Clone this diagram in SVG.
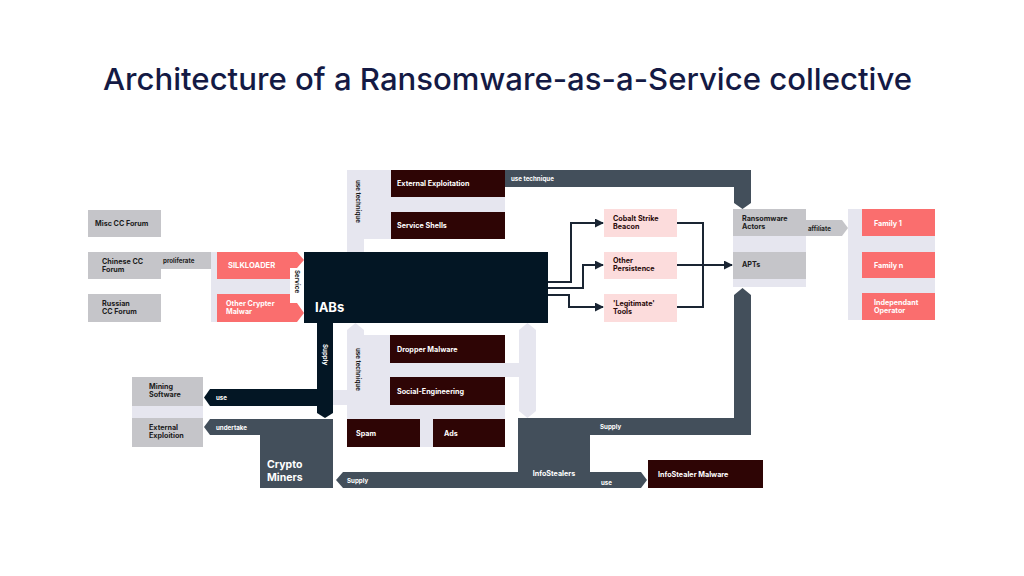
<svg xmlns="http://www.w3.org/2000/svg" width="1024" height="576" viewBox="0 0 1024 576">
<style>
.t{font-family:Inter,"Liberation Sans",sans-serif;font-weight:700;font-size:7.2px}
.w{fill:#ffffff}.d{fill:#1c1c1c}.m{fill:#2a0a0a}
.gray{fill:#c5c5c9}.lav{fill:#e6e6ef}.sal{fill:#fa6e6e}.pink{fill:#fcdcdc}.mar{fill:#2e0505}.navy{fill:#031624}.slate{fill:#434f5b}
.ln{fill:none;stroke:#1a2533;stroke-width:2}
.s{font-size:6.2px}
.big{font-size:13px}
.mid{font-size:10.5px}
</style>
<defs>
<marker id="ah" viewBox="0 0 10 10" refX="9" refY="5" markerWidth="4.5" markerHeight="4.5" orient="auto" markerUnits="strokeWidth">
<path d="M0,0 L10,5 L0,10 z" fill="#1a2533"/>
</marker>
</defs>
<rect width="1024" height="576" fill="#ffffff"/>
<text x="103" y="90" textLength="809" lengthAdjust="spacingAndGlyphs" font-family="Inter,'Liberation Sans',sans-serif" font-size="30.5" font-weight="500" fill="#141a44">Architecture of a Ransomware-as-a-Service collective</text>

<g id="connectors">
<!-- lavender backgrounds -->
<path class="lav" d="M347,252 V170 H505 V239 H364 V252 Z"/>
<rect class="lav" x="211" y="252" width="79" height="70"/>
<path class="lav" d="M347,447 V330 L355.5,323 L364,330 V335 H505 V447 Z"/>
<rect class="lav" x="505" y="363" width="14" height="14"/>
<path class="lav" d="M519,330 L527.5,323 L536,330 V411 L527.5,418 L519,411 Z"/>
<rect class="lav" x="333" y="390" width="14" height="15"/>
<rect class="lav" x="733" y="209" width="73" height="78"/>
<rect class="lav" x="848" y="209" width="87" height="111"/>
<rect class="lav" x="132" y="406" width="71" height="12"/>
<!-- proliferate -->
<rect class="gray" x="161" y="252" width="50" height="17"/>
<text class="t s d" x="163" y="263">proliferate</text>
<!-- top use technique -->
<path class="slate" d="M505,170 H751 V203 L742.5,209 L734,203 V187 H505 Z"/>
<text class="t s w" x="511" y="181">use technique</text>
<text class="t s d" transform="translate(356,180) rotate(90)">use technique</text>
<!-- Service -->
<text class="t s d" transform="translate(295,270) rotate(90)">Service</text>
<!-- Supply dark column -->
<path class="navy" d="M317,322 H333 V413 L325,418 L317,413 Z"/>
<text class="t s w" transform="translate(323,344) rotate(90)">Supply</text>
<!-- use arrow to Mining -->
<path class="navy" d="M333,389 H210 L204,397.5 L210,406 H333 Z"/>
<text class="t s w" x="216" y="400">use</text>
<!-- undertake -->
<path class="slate" d="M260,419 H210 L204,427 L210,435 H260 Z"/>
<text class="t s w" x="216" y="430">undertake</text>
<text class="t s d" transform="translate(356,348) rotate(90)">use technique</text>
<!-- APTs supply path -->
<path class="slate" d="M590,418 H734 V295 L742.5,288 L751,295 V435 H590 Z"/>
<text class="t s w" x="600" y="429">Supply</text>
<!-- bottom supply band -->
<path class="slate" d="M343,472 H641 L647,480 L641,488 H343 L336,480 Z"/>
<text class="t s w" x="347" y="483">Supply</text>
<text class="t s w" x="601" y="485">use</text>
<!-- affiliate -->
<path class="gray" d="M806,220 H842 L848,228 L842,236 H806 Z"/>
<text class="t s d" x="808" y="231">affiliate</text>
<!-- arrows from IABs -->
<path class="ln" d="M548,282 H571 V223 H603" marker-end="url(#ah)"/>
<path class="ln" d="M548,288 H583 V265 H603" marker-end="url(#ah)"/>
<path class="ln" d="M548,295 H569 V307 H603" marker-end="url(#ah)"/>
<path class="ln" d="M677,223 H703 V307 H677 M677,265 H732" marker-end="url(#ah)"/>
</g>

<g id="misc-cc"><rect class="gray" x="88" y="210" width="73" height="27"/><text class="t d" x="95" y="226">Misc CC Forum</text></g>
<g id="chinese-cc"><rect class="gray" x="88" y="252" width="73" height="27"/><text class="t d" x="102" y="264">Chinese CC</text><text class="t d" x="102" y="272">Forum</text></g>
<g id="russian-cc"><rect class="gray" x="88" y="294" width="73" height="28"/><text class="t d" x="102" y="306">Russian</text><text class="t d" x="102" y="314">CC Forum</text></g>

<g id="silkloader"><path class="sal" d="M217,252 H297 L304,260 L297,268 H290 V279 H217 Z"/><text class="t w" x="228" y="268" style="font-size:7.6px">SILKLOADER</text></g>
<g id="other-crypter"><path class="sal" d="M217,294 H290 V303 H297 L304,313 L297,322 H217 Z"/><text class="t w" x="226" y="306">Other Crypter</text><text class="t w" x="226" y="314">Malwar</text></g>

<g id="iabs"><rect class="navy" x="304" y="252" width="244" height="71"/><text class="t w big" x="315" y="312">IABs</text></g>

<g id="ext-exploitation"><rect class="mar" x="391" y="170" width="114" height="27"/><text class="t w" x="397" y="186">External Exploitation</text></g>
<g id="service-shells"><rect class="mar" x="391" y="212" width="114" height="27"/><text class="t w" x="397" y="228">Service Shells</text></g>

<g id="dropper"><rect class="mar" x="390" y="335" width="115" height="28"/><text class="t w" x="397" y="352">Dropper Malware</text></g>
<g id="social-eng"><rect class="mar" x="390" y="377" width="115" height="28"/><text class="t w" x="397" y="394">Social-Engineering</text></g>
<g id="spam"><rect class="mar" x="347" y="419" width="73" height="28"/><text class="t w" x="356" y="436">Spam</text></g>
<g id="ads"><rect class="mar" x="433" y="419" width="72" height="28"/><text class="t w" x="444" y="436">Ads</text></g>

<g id="cobalt"><rect class="pink" x="604" y="209" width="73" height="28"/><text class="t m" x="613" y="221">Cobalt Strike</text><text class="t m" x="613" y="229">Beacon</text></g>
<g id="other-persistence"><rect class="pink" x="604" y="252" width="73" height="27"/><text class="t m" x="613" y="263">Other</text><text class="t m" x="613" y="271">Persistence</text></g>
<g id="legit-tools"><rect class="pink" x="604" y="294" width="73" height="28"/><text class="t m" x="613" y="306">'Legitimate'</text><text class="t m" x="613" y="314">Tools</text></g>

<g id="ransomware-actors"><rect class="gray" x="733" y="209" width="73" height="27"/><text class="t d" x="742" y="221">Ransomware</text><text class="t d" x="742" y="229">Actors</text></g>
<g id="apts"><rect class="gray" x="733" y="252" width="73" height="27"/><text class="t d" x="742" y="267">APTs</text></g>

<g id="family-1"><rect class="sal" x="862" y="209" width="73" height="27"/><text class="t w" x="874" y="226">Family 1</text></g>
<g id="family-n"><rect class="sal" x="862" y="252" width="73" height="26"/><text class="t w" x="874" y="268">Family n</text></g>
<g id="independant"><rect class="sal" x="862" y="293" width="73" height="27"/><text class="t w" x="874" y="305">Independant</text><text class="t w" x="874" y="313">Operator</text></g>

<g id="mining-software"><rect class="gray" x="132" y="377" width="71" height="29"/><text class="t d" x="149" y="389">Mining</text><text class="t d" x="149" y="397">Software</text></g>
<g id="external-exploition"><rect class="gray" x="132" y="418" width="71" height="29"/><text class="t d" x="149" y="430">External</text><text class="t d" x="149" y="438">Exploition</text></g>

<g id="crypto-miners"><rect class="slate" x="260" y="419" width="73" height="69"/><text class="t w mid" x="267" y="468">Crypto</text><text class="t w mid" x="267" y="480.5">Miners</text></g>
<g id="infostealers"><rect class="slate" x="518" y="418" width="72" height="54"/><text class="t w" x="554" y="476" text-anchor="middle">InfoStealers</text></g>
<g id="infostealer-malware"><rect class="mar" x="648" y="460" width="115" height="28"/><text class="t w" x="658" y="477">InfoStealer Malware</text></g>
</svg>
